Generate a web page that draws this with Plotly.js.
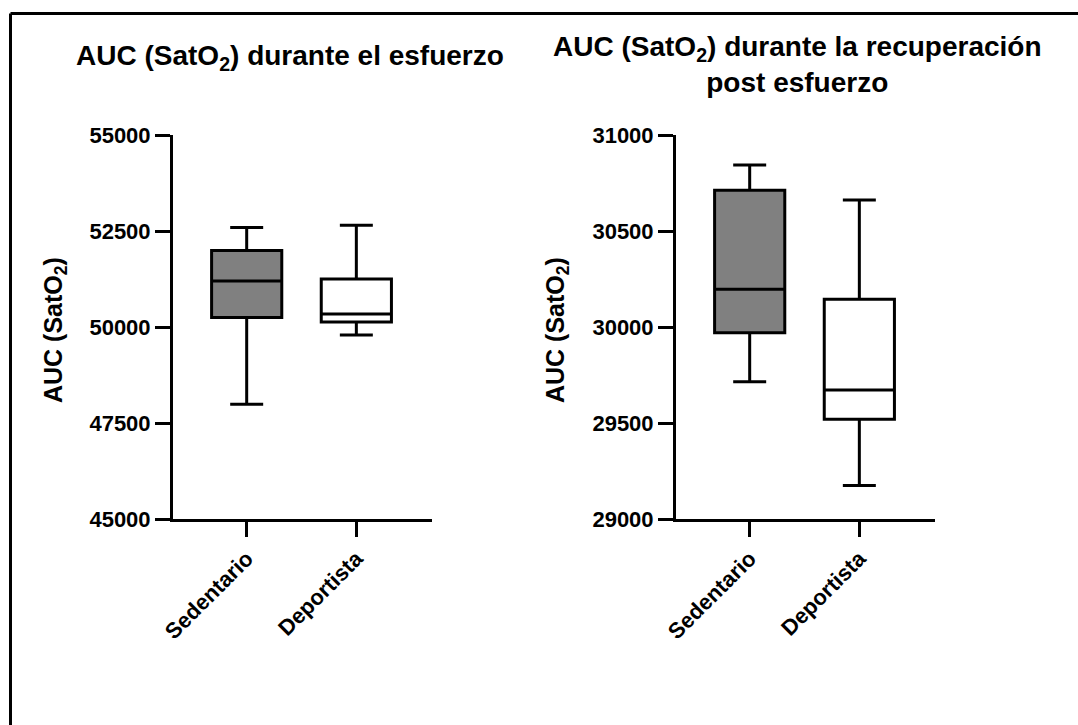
<!DOCTYPE html>
<html>
<head>
<meta charset="utf-8">
<script src="https://cdn.plot.ly/plotly-3.0.1.min.js"></script>
<style>
html,body{margin:0;padding:0;background:#fff;}
#chart{width:1078px;height:725px;}
</style>
</head>
<body>
<div id="chart"></div>
<script>
// ---- data ----
const categories = ['Sedentario', 'Deportista'];
const groupColors = ['#808080', '#ffffff'];

// AUC (SatO2) durante el esfuerzo
const esfLower  = [47990, 49790];
const esfQ1     = [50250, 50130];
const esfMedian = [51200, 50340];
const esfQ3     = [51990, 51250];
const esfUpper  = [52590, 52650];

// AUC (SatO2) durante la recuperación post esfuerzo
const recLower  = [29715, 29174];
const recQ1     = [29970, 29520];
const recMedian = [30196, 29672];
const recQ3     = [30712, 30144];
const recUpper  = [30844, 30661];

const leftTicks  = [45000, 47500, 50000, 52500, 55000];
const rightTicks = [29000, 29500, 30000, 30500, 31000];

const titleLeft  = 'AUC (SatO<sub>2</sub>) durante el esfuerzo';
const titleRight = 'AUC (SatO<sub>2</sub>) durante la recuperación<br>post esfuerzo';
const yTitle     = 'AUC (SatO<sub>2</sub>)';

// ---- build ----
const W = 1078, H = 725;
const FONT = 'Liberation Sans, Arial, sans-serif';
const traces = [];
function addBoxes(lo, q1, med, q3, up, xa, ya) {
  categories.forEach((c, i) => {
    traces.push({
      type: 'box',
      x: [c],
      lowerfence: [lo[i]], q1: [q1[i]], median: [med[i]], q3: [q3[i]], upperfence: [up[i]],
      xaxis: xa, yaxis: ya,
      fillcolor: groupColors[i],
      line: {color: '#000000', width: 3},
      width: 0.64,
      whiskerwidth: 0.47,
      boxpoints: false,
      showlegend: false,
      hoverinfo: 'skip'
    });
  });
}
addBoxes(esfLower, esfQ1, esfMedian, esfQ3, esfUpper, 'x', 'y');
addBoxes(recLower, recQ1, recMedian, recQ3, recUpper, 'x2', 'y2');

const px = v => v / W;
const py = v => 1 - v / H;

const tickFont = {family: FONT, size: 22, color: '#000', weight: 'bold'};
function xAxis(domain, anchor) {
  return {
    domain: domain, anchor: anchor, type: 'category',
    categoryorder: 'array', categoryarray: categories,
    range: [-0.672, 1.69],
    showline: true, linewidth: 3, linecolor: '#000',
    ticks: 'outside', ticklen: 15, tickwidth: 3, tickcolor: '#000',
    tickangle: -45, tickfont: tickFont,
    showgrid: false, zeroline: false, fixedrange: true
  };
}
function yAxis(range, ticks, anchor) {
  return {
    domain: [py(519), py(135)], anchor: anchor,
    range: range, tickvals: ticks, ticktext: ticks.map(String),
    showline: true, linewidth: 3, linecolor: '#000',
    ticks: 'outside', ticklen: 15, tickwidth: 3, tickcolor: '#000',
    tickfont: tickFont,
    showgrid: false, zeroline: false, fixedrange: true
  };
}

const layout = {
  width: W, height: H,
  margin: {l: 0, r: 0, t: 0, b: 0},
  paper_bgcolor: '#fff', plot_bgcolor: '#fff',
  boxmode: 'overlay',
  showlegend: false,
  xaxis: xAxis([px(173), px(432)], 'y'),
  yaxis: yAxis([45000, 55000], leftTicks, 'x'),
  xaxis2: xAxis([px(676), px(935)], 'y2'),
  yaxis2: yAxis([29000, 31000], rightTicks, 'x2'),
  annotations: [
    {text: titleLeft, xref: 'paper', yref: 'paper', x: px(290), y: py(58),
     xanchor: 'center', yanchor: 'middle', showarrow: false,
     font: {family: FONT, size: 28, color: '#000', weight: 'bold'}},
    {text: titleRight, xref: 'paper', yref: 'paper', x: px(797), y: py(65),
     xanchor: 'center', yanchor: 'middle', showarrow: false,
     font: {family: FONT, size: 28, color: '#000', weight: 'bold'}},
    {text: yTitle, xref: 'paper', yref: 'paper', x: px(55), y: py(330),
     xanchor: 'center', yanchor: 'middle', textangle: -90, showarrow: false,
     font: {family: FONT, size: 25, color: '#000', weight: 'bold'}},
    {text: yTitle, xref: 'paper', yref: 'paper', x: px(557), y: py(330),
     xanchor: 'center', yanchor: 'middle', textangle: -90, showarrow: false,
     font: {family: FONT, size: 25, color: '#000', weight: 'bold'}}
  ],
  shapes: [
    {type: 'line', xref: 'paper', yref: 'paper', x0: px(10.5), x1: 1, y0: py(13.5), y1: py(13.5),
     line: {color: '#000', width: 3}},
    {type: 'line', xref: 'paper', yref: 'paper', x0: px(10.5), x1: px(10.5), y0: py(13.5), y1: 0,
     line: {color: '#000', width: 3}}
  ]
};

Plotly.newPlot('chart', traces, layout, {displayModeBar: false, staticPlot: true});
</script>
</body>
</html>
